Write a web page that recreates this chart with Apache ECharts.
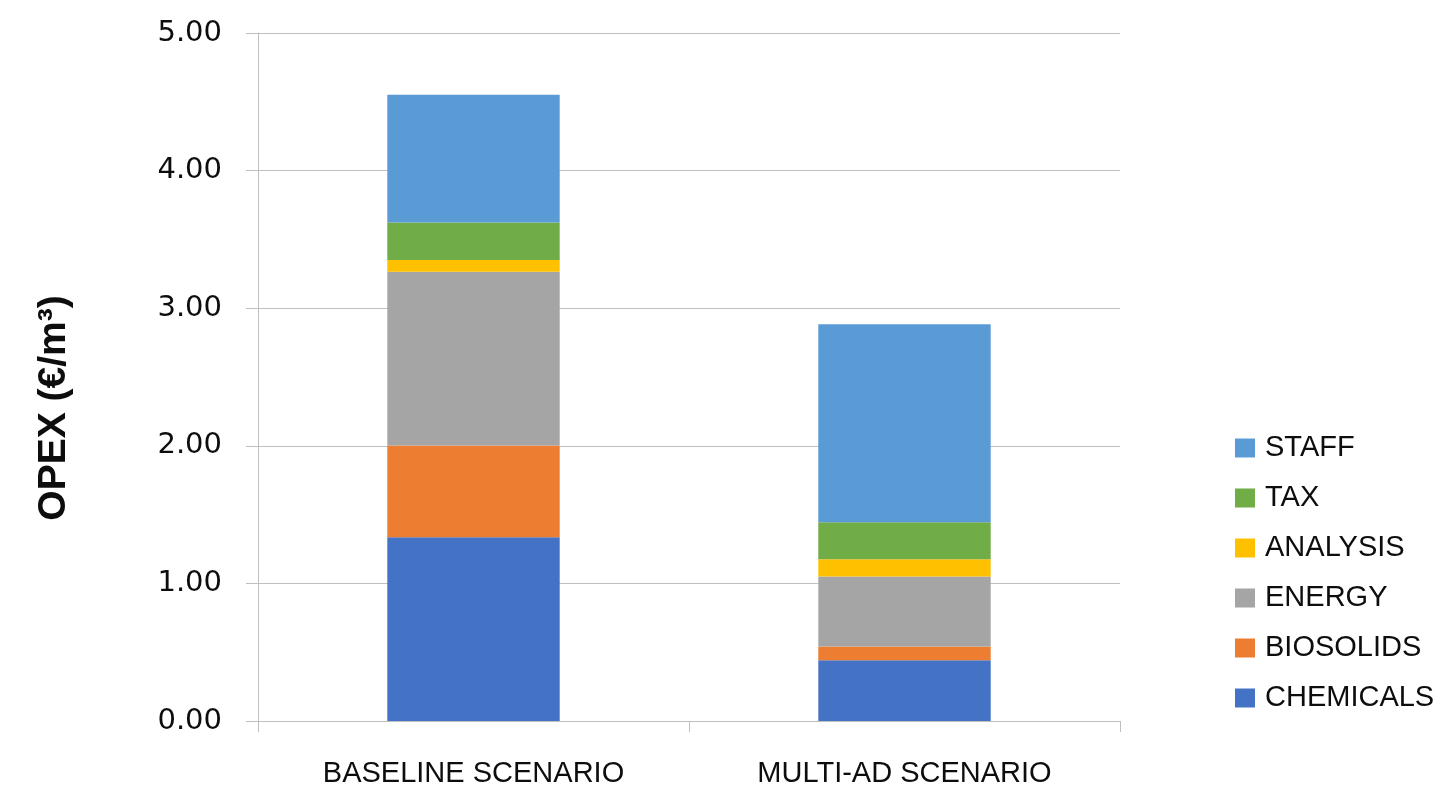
<!DOCTYPE html>
<html>
<head>
    <meta charset="utf-8">
    <title>OPEX</title>
    <script src="https://cdn.jsdelivr.net/npm/echarts@6/dist/echarts.min.js"></script>
    <style>
        html, body { margin: 0; padding: 0; background: #fff; }
        #chart { width: 1450px; height: 792px; }
    </style>
</head>
<body>
<div id="chart"></div>
<script type="text/javascript">
    // 数据
    var categories = ['BASELINE SCENARIO', 'MULTI-AD SCENARIO'];
    var chemicals = [1.335, 0.442];
    var biosolids = [0.668, 0.099];
    var energy = [1.262, 0.510];
    var analysis = [0.085, 0.124];
    var tax = [0.272, 0.269];
    var staff = [0.930, 1.440];
    var yTicks = [0, 1, 2, 3, 4, 5];

    var seriesNames = ['CHEMICALS', 'BIOSOLIDS', 'ENERGY', 'ANALYSIS', 'TAX', 'STAFF'];
    var seriesData = [chemicals, biosolids, energy, analysis, tax, staff];
    var colors = ['#4472C4', '#ED7D31', '#A5A5A5', '#FFC000', '#70AD47', '#5B9BD5'];

    var myChart = echarts.init(document.getElementById('chart'));

    var series = seriesNames.map(function (name, i) {
        return {
            name: name,
            type: 'bar',
            stack: 'opex',
            barWidth: '40%',
            itemStyle: { color: colors[i] },
            data: seriesData[i]
        };
    });

    myChart.setOption({
        animation: false,
        grid: { left: 258, right: 330, top: 33, bottom: 71 },
        legend: {
            orient: 'vertical',
            left: 1235,
            top: 433,
            padding: 0,
            itemWidth: 20,
            itemHeight: 19,
            itemGap: 20,
            icon: 'rect',
            data: seriesNames.slice().reverse(),
            textStyle: {
                fontFamily: 'Liberation Sans',
                fontSize: 29,
                lineHeight: 30,
                color: '#0d0d0d',
                padding: [0, 0, 0, 5]
            }
        },
        xAxis: {
            type: 'category',
            data: categories,
            axisLine: { lineStyle: { color: '#bfbfbf', width: 1 } },
            axisTick: { show: true, length: 11, lineStyle: { color: '#bfbfbf' } },
            axisLabel: {
                margin: 38,
                fontFamily: 'Liberation Sans',
                fontSize: 29,
                color: '#0d0d0d'
            }
        },
        yAxis: {
            type: 'value',
            min: yTicks[0],
            max: yTicks[yTicks.length - 1],
            interval: 1,
            axisLine: { show: true, lineStyle: { color: '#bfbfbf', width: 1 } },
            axisTick: { show: true, length: 12, lineStyle: { color: '#bfbfbf' } },
            splitLine: { lineStyle: { color: '#bfbfbf', width: 1 } },
            axisLabel: {
                margin: 36,
                fontFamily: 'DejaVu Sans',
                fontSize: 29,
                color: '#0d0d0d',
                formatter: function (v) { return v.toFixed(2); }
            }
        },
        // 纵轴标题
        graphic: [{
            type: 'text',
            x: 54,
            y: 408,
            rotation: Math.PI / 2,
            style: {
                text: 'OPEX (€/m³)',
                fontFamily: 'Liberation Sans',
                fontWeight: 'bold',
                fontSize: 39,
                fill: '#0d0d0d',
                align: 'center',
                verticalAlign: 'middle'
            }
        }],
        series: series
    });
</script>
</body>
</html>
